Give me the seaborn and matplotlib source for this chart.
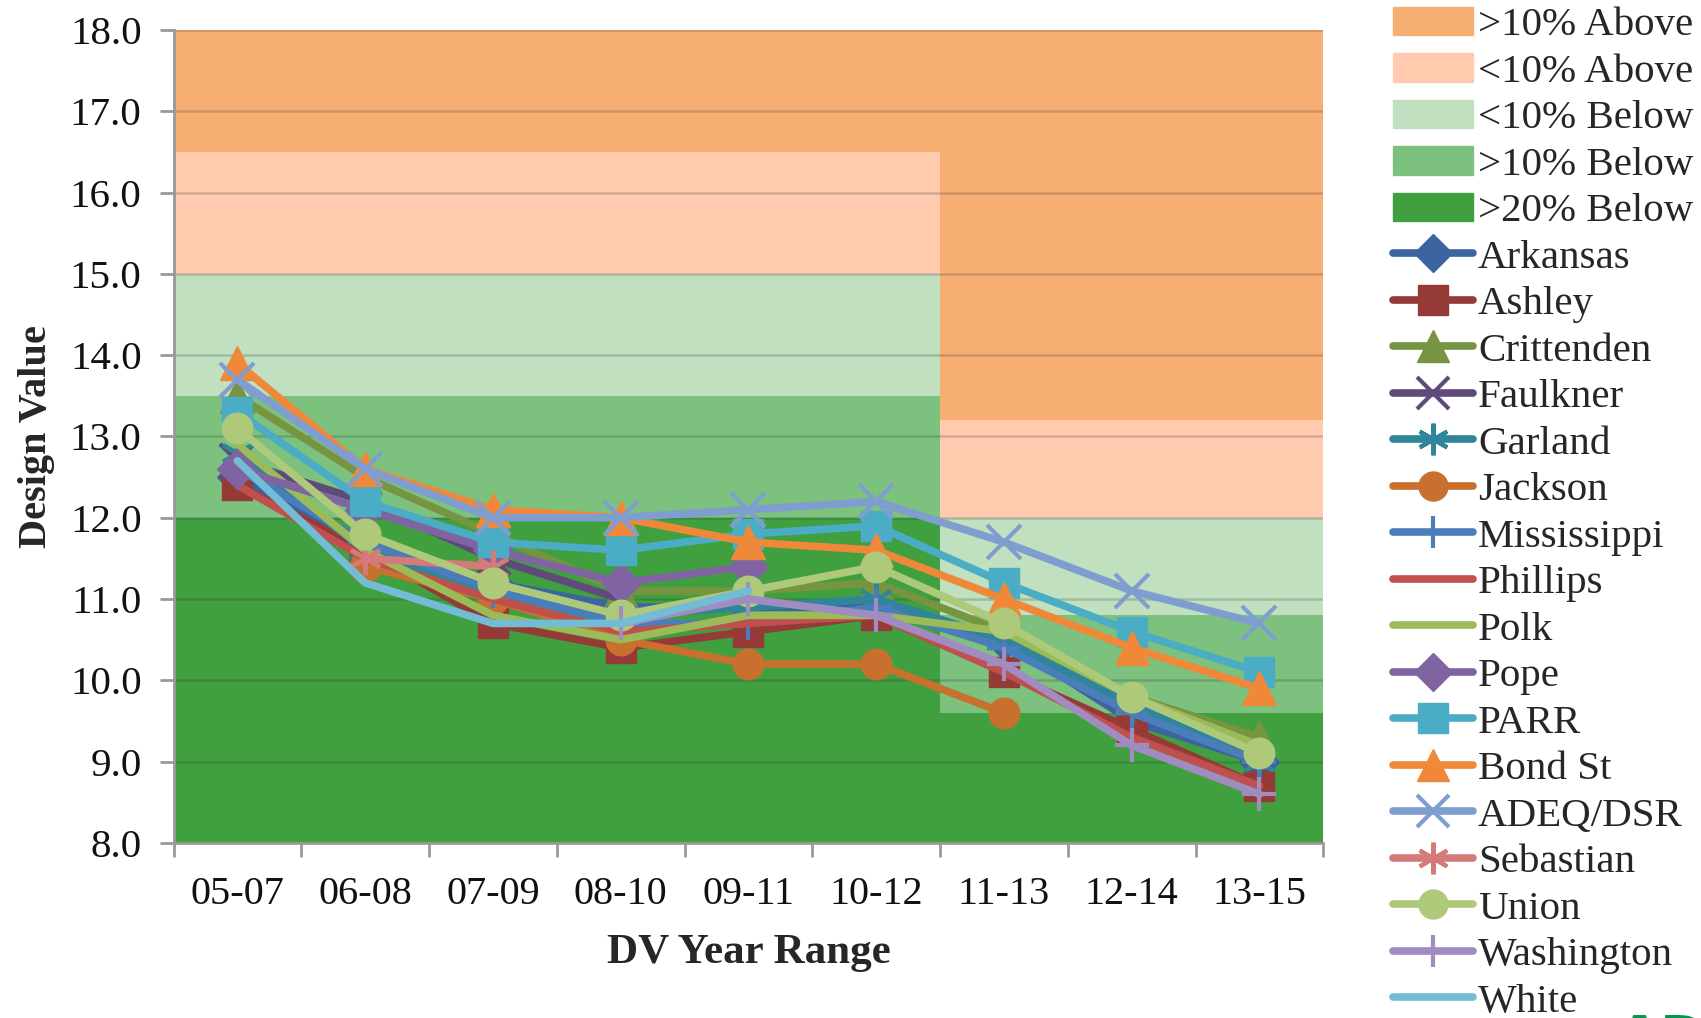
import numpy as np
import pandas as pd
import seaborn as sns
import matplotlib.pyplot as plt
import matplotlib.patches as mpatches
from matplotlib.lines import Line2D

nan = np.nan

# x-Kategorien
year_ranges = ['05-07', '06-08', '07-09', '08-10', '09-11', '10-12', '11-13', '12-14', '13-15']

# Design Values je Messstation
arkansas = [12.5, 11.7, 11.2, 10.9, 10.9, 10.9, 10.5, 9.5, 9.0]
ashley = [12.4, 11.6, 10.7, 10.4, 10.6, 10.8, 10.1, 9.4, 8.7]
crittenden = [13.5, 12.5, 11.8, 11.1, 11.1, 11.2, 10.6, 9.8, 9.3]
faulkner = [12.7, 12.2, 11.5, 11.0, nan, nan, nan, nan, nan]
garland = [12.8, 11.6, 11.1, 10.8, 10.9, 11.0, 10.5, 9.7, 9.0]
jackson = [nan, 11.4, 11.0, 10.5, 10.2, 10.2, 9.6, nan, nan]
mississippi = [12.6, 11.7, 11.1, 10.7, 10.7, 10.9, 10.4, 9.6, 9.0]
phillips = [12.4, 11.5, 11.0, 10.6, 10.7, 10.8, 10.1, 9.3, 8.7]
polk = [12.9, 11.6, 10.8, 10.5, 10.8, 10.8, 10.6, 9.8, 9.2]
pope = [12.6, 12.1, 11.6, 11.2, 11.4, nan, nan, nan, nan]
parr = [13.3, 12.2, 11.7, 11.6, 11.8, 11.9, 11.2, 10.6, 10.1]
bond_st = [13.9, 12.6, 12.1, 12.0, 11.7, 11.6, 11.0, 10.4, 9.9]
adeq_dsr = [13.7, 12.6, 12.0, 12.0, 12.1, 12.2, 11.7, 11.1, 10.7]
sebastian = [nan, 11.5, 11.4, nan, nan, nan, nan, nan, nan]
union = [13.1, 11.8, 11.2, 10.8, 11.1, 11.4, 10.7, 9.8, 9.1]
washington = [nan, nan, nan, 10.7, 11.0, 10.8, 10.2, 9.2, 8.6]
white = [12.7, 11.2, 10.7, 10.7, 11.1, nan, nan, nan, nan]

# Bereiche relativ zum Standard (alt: 15, neu: 12)
band_labels = ['>10% Above', '<10% Above', '<10% Below', '>10% Below', '>20% Below']
band_colors = ['#F7AE72', '#FFCAAE', '#C0E0BF', '#7DC17E', '#40A040']
bounds_old = [18.0, 16.5, 15.0, 13.5, 12.0, 8.0]   # 05-07 bis 10-12
bounds_new = [18.0, 13.2, 12.0, 10.8, 9.6, 8.0]    # 11-13 bis 13-15
n_old = 6

series = [
    ('Arkansas', arkansas, '#3C64A0', 'D'),
    ('Ashley', ashley, '#963A38', 's'),
    ('Crittenden', crittenden, '#779440', '^'),
    ('Faulkner', faulkner, '#604A7B', 'x'),
    ('Garland', garland, '#2F8599', (6, 2, 0)),
    ('Jackson', jackson, '#C8702E', 'o'),
    ('Mississippi', mississippi, '#4A7EBB', '+'),
    ('Phillips', phillips, '#C0504D', None),
    ('Polk', polk, '#9BBB59', None),
    ('Pope', pope, '#8064A2', 'D'),
    ('PARR', parr, '#4BACC6', 's'),
    ('Bond St', bond_st, '#F0883A', '^'),
    ('ADEQ/DSR', adeq_dsr, '#7F9ECF', 'x'),
    ('Sebastian', sebastian, '#D47A78', (6, 2, 0)),
    ('Union', union, '#AFC97A', 'o'),
    ('Washington', washington, '#A08CC0', '+'),
    ('White', white, '#73BCD6', None),
]

sns.set_style('white')
plt.rcParams['font.family'] = ['Liberation Serif', 'DejaVu Serif']

fig = plt.figure(figsize=(17.01, 10.18), dpi=100)
ax = fig.add_axes([0.102, 0.172, 0.676, 0.7985])

pos = np.arange(len(year_ranges))

# Hintergrundbänder
x_old = np.array([-0.5, n_old - 0.5])
x_new = np.array([n_old - 0.5, len(year_ranges) - 0.5])
for i, (lab, col) in enumerate(zip(band_labels, band_colors)):
    ax.fill_between(x_old, bounds_old[i + 1], bounds_old[i], color=col, lw=0, zorder=0.1)
    ax.fill_between(x_new, bounds_new[i + 1], bounds_new[i], color=col, lw=0, zorder=0.1)

handles = [mpatches.Patch(color=c, label=l) for l, c in zip(band_labels, band_colors)]

for name, vals, col, mk in series:
    df = pd.DataFrame({'pos': pos, 'dv': vals}).dropna()
    ms = 22 if mk in ('s', 'o') else 24
    if mk == 'D':
        ms = 20
    mew = 3 if mk in ('x', '+', (6, 2, 0)) else 1
    sns.lineplot(data=df, x='pos', y='dv', ax=ax, color=col, lw=5.5,
                 marker=mk if mk is not None else '', markersize=ms,
                 markeredgewidth=mew, markeredgecolor=col,
                 solid_capstyle='round', solid_joinstyle='round',
                 sort=False, zorder=3)
    handles.append(Line2D([], [], color=col, lw=5.5, marker=mk if mk is not None else '',
                          markersize=ms * 0.95, markeredgewidth=mew, markeredgecolor=col,
                          solid_capstyle='round', label=name))

ax.set_xlim(-0.5, len(year_ranges) - 0.5)
ax.set_ylim(8, 18)
ax.set_yticks(np.arange(8, 18.5, 1.0))
ax.set_yticklabels([f'{v:.1f}' for v in np.arange(8, 18.5, 1.0)])
ax.set_xticks(np.arange(-0.5, len(year_ranges), 1.0))
ax.set_xticklabels([])
ax.set_xticks(pos, minor=True)
ax.set_xticklabels(year_ranges, minor=True)

ax.set_axisbelow(True)
ax.yaxis.grid(True, color='#333333', alpha=0.22, lw=1.8)
ax.xaxis.grid(False)

for s in ['top', 'right']:
    ax.spines[s].set_visible(False)
for s in ['left', 'bottom']:
    ax.spines[s].set_color('#999999')
    ax.spines[s].set_linewidth(2)

ax.tick_params(axis='both', which='major', direction='out', length=10, width=2,
               color='#999999', labelsize=29.5, pad=13, labelcolor='#111111')
ax.tick_params(axis='x', which='minor', length=0, labelsize=29, pad=24, labelcolor='#111111')
ax.tick_params(axis='y', left=True)
ax.tick_params(axis='x', bottom=True)

ax.set_xlabel('DV Year Range', fontsize=31, fontweight='bold', labelpad=15)
ax.set_ylabel('Design Value', fontsize=29, fontweight='bold', labelpad=11)

leg = fig.legend(handles=handles, loc='upper left', bbox_to_anchor=(0.819, 0.9935),
                 frameon=False, fontsize=29.5, handlelength=1.95, handletextpad=0.12,
                 labelspacing=0.215, borderpad=0, borderaxespad=0)

fig.text(0.951, 0.005, 'ADEQ', color='#00994C', fontsize=40, fontweight='bold',
         family='DejaVu Sans', va='top', ha='left')

fig.savefig('out.png', dpi=100)
